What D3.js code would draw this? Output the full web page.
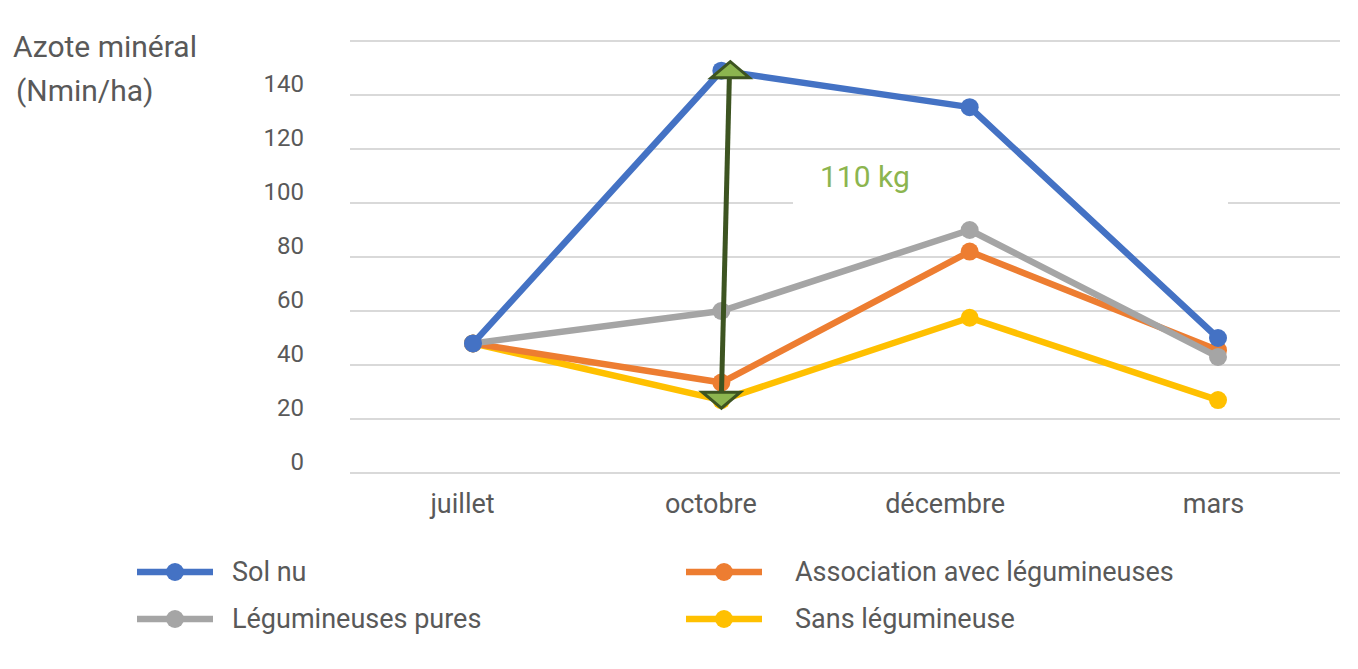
<!DOCTYPE html>
<html>
<head>
<meta charset="utf-8">
<script src="https://cdn.jsdelivr.net/npm/d3@7"></script>
<style>
  body { margin: 0; background: #fff; }
  text { font-family: Roboto, "Noto Sans", sans-serif; fill: #595959; }
</style>
</head>
<body>
<script>
var months = ["juillet", "octobre", "décembre", "mars"];
var yTicks = [0, 20, 40, 60, 80, 100, 120, 140];
var gridTicks = [0, 20, 40, 60, 80, 100, 120, 140, 160];

var solNu       = [48, 149, 135.5, 50];
var association = [48, 33.5, 82, 45.5];
var legPures    = [48, 60, 90, 43];
var sansLeg     = [48, 27, 57.5, 27];

var seriesNames = ["Sol nu", "Association avec légumineuses", "Légumineuses pures", "Sans légumineuse"];
var seriesColors = ["#4472c4", "#ed7d31", "#a5a5a5", "#ffc000"];

// annotation: difference octobre
var arrowTop = 149, arrowBottom = 24;
var arrowLabel = "110 kg";

var W = 1358, H = 669;

var svg = d3.select("body").append("svg")
    .attr("width", W)
    .attr("height", H);

var x = d3.scalePoint()
    .domain(months)
    .range([473, 1218]);

var y = d3.scaleLinear()
    .domain([0, 160])
    .range([473, 41]);

// gridlines
svg.append("g")
  .selectAll("line")
  .data(gridTicks).enter()
  .append("line")
    .attr("x1", 350)
    .attr("x2", 1340)
    .attr("y1", function(d) { return y(d); })
    .attr("y2", function(d) { return y(d); })
    .attr("stroke", "#d9d9d9")
    .attr("stroke-width", 2);

// white box behind the label (cuts the 100 gridline)
svg.append("rect")
    .attr("x", 793)
    .attr("y", 158)
    .attr("width", 435)
    .attr("height", 55)
    .attr("fill", "#fff");

// y axis labels (sit a bit above their gridline in the original)
var yAxis = svg.append("g")
    .attr("transform", "translate(304,0)")
    .call(d3.axisLeft(y).tickValues(yTicks).tickSize(0).tickPadding(0));
yAxis.select(".domain").remove();
yAxis.selectAll("text")
    .attr("transform", "translate(0,-11)")
    .style("font-size", "24px")
    .style("font-family", "Roboto, sans-serif")
    .attr("fill", "#595959");

// x axis labels
var xAxis = svg.append("g")
    .attr("transform", "translate(0,490)")
    .call(d3.axisBottom(x).tickSize(0).tickPadding(0));
xAxis.select(".domain").remove();
xAxis.selectAll("text")
    .attr("dy", "0.85em")
    .attr("dx", function(d, i) { return [-11, -11, -25, -5][i]; })
    .style("font-size", "27px")
    .style("font-family", "Roboto, sans-serif")
    .attr("fill", "#595959");

// axis title
var title = svg.append("text")
    .style("font-size", "30px");
title.append("tspan").attr("x", 13).attr("y", 57).text("Azote minéral");
title.append("tspan").attr("x", 16).attr("y", 101).text("(Nmin/ha)");

// lines
var allSeries = [solNu, association, legPures, sansLeg];
var drawOrder = [3, 1, 2, 0];

var line = d3.line()
    .x(function(d, i) { return x(months[i]); })
    .y(function(d) { return y(d); });

drawOrder.forEach(function(k) {
  var g = svg.append("g");
  g.append("path")
    .datum(allSeries[k])
    .attr("d", line)
    .attr("fill", "none")
    .attr("stroke", seriesColors[k])
    .attr("stroke-width", 6.5)
    .attr("stroke-linejoin", "round");
  g.selectAll("circle")
    .data(allSeries[k]).enter()
    .append("circle")
      .attr("cx", function(d, i) { return x(months[i]); })
      .attr("cy", function(d) { return y(d); })
      .attr("r", 9)
      .attr("fill", seriesColors[k]);
});

// arrow
var ax = x("octobre");
var dark = "#3d5421", light = "#8cb54f";
svg.append("line")
    .attr("x1", ax + 8)
    .attr("y1", y(arrowTop) + 8)
    .attr("x2", ax)
    .attr("y2", y(arrowBottom) - 10)
    .attr("stroke", dark)
    .attr("stroke-width", 5);

function tri(cx, tipY, dir) {
  // dir -1: pointing up, 1: pointing down
  var baseY = tipY - dir * 16;
  return "M" + cx + "," + tipY + " L" + (cx - 19) + "," + baseY + " L" + (cx + 19) + "," + baseY + " Z";
}
svg.append("path")
    .attr("d", tri(ax + 9, y(arrowTop) - 9, -1))
    .attr("fill", light)
    .attr("stroke", dark)
    .attr("stroke-width", 3)
    .attr("stroke-linejoin", "miter");
svg.append("path")
    .attr("d", tri(ax, y(arrowBottom), 1))
    .attr("fill", light)
    .attr("stroke", dark)
    .attr("stroke-width", 3)
    .attr("stroke-linejoin", "miter");

svg.append("text")
    .attr("x", 820)
    .attr("y", 187)
    .style("font-size", "30px")
    .style("fill", "#8cb54f")
    .text(arrowLabel);

// legend
var legendPos = [[137, 572], [686, 572], [137, 619], [686, 619]];
seriesNames.forEach(function(name, k) {
  var p = legendPos[k];
  var g = svg.append("g").attr("transform", "translate(" + p[0] + "," + p[1] + ")");
  g.append("line")
    .attr("x1", 0).attr("x2", 76)
    .attr("y1", 0).attr("y2", 0)
    .attr("stroke", seriesColors[k])
    .attr("stroke-width", 6.5);
  g.append("circle")
    .attr("cx", 38).attr("cy", 0).attr("r", 9)
    .attr("fill", seriesColors[k]);
  g.append("text")
    .attr("x", k % 2 === 0 ? 95 : 109)
    .attr("y", 9)
    .style("font-size", "27px")
    .text(name);
});
</script>
</body>
</html>
